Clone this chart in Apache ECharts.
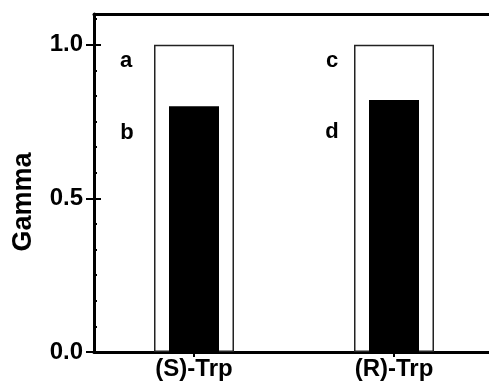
<!DOCTYPE html>
<html>
<head>
<meta charset="utf-8">
<script src="https://cdn.jsdelivr.net/npm/echarts@6/dist/echarts.min.js"></script>
<style>
  html, body { margin: 0; padding: 0; background: #fff; }
  #chart { width: 489px; height: 389px; }
</style>
</head>
<body>
<div id="chart"></div>
<script>
// Enantiomer categories and their gamma values
const categories = ['(S)-Trp', '(R)-Trp'];
const outerValues = [1.0, 1.0];     // open bars (a, c)
const innerValues = [0.80, 0.82];   // filled bars (b, d)
const outerLetters = ['a', 'c'];
const innerLetters = ['b', 'd'];
const yTickValues = [0, 0.5, 1.0];

const FONT = '"Liberation Sans", Arial, Helvetica, sans-serif';

// label anchor offsets relative to each bar's top-left corner
const outerLabelPos = [[-28, 16], [-22, 16]];
const innerLabelPos = [[-42, 27], [-37, 32]];

const letterStyle = {
  show: true,
  color: '#000',
  fontFamily: FONT,
  fontWeight: 'bold',
  fontSize: 22,
  align: 'center',
  verticalAlign: 'middle'
};

const chart = echarts.init(document.getElementById('chart'), null, { renderer: 'canvas' });

chart.setOption({
  animation: false,
  backgroundColor: '#fff',
  grid: { left: 94, width: 400, top: 14, bottom: 37, containLabel: false, outerBoundsMode: 'none' },
  xAxis: [
    {
      type: 'category',
      data: categories,
      position: 'bottom',
      boundaryGap: true,
      axisLine: { show: true, onZero: false, lineStyle: { color: '#000', width: 3 } },
      axisTick: { show: true, alignWithLabel: true, inside: false, length: 5, lineStyle: { color: '#000', width: 2 } },
      axisLabel: { color: '#000', fontFamily: FONT, fontWeight: 'bold', fontSize: 24, margin: 5 },
      splitLine: { show: false }
    },
    {
      // frame line along the top of the plot
      type: 'category',
      data: categories,
      position: 'top',
      boundaryGap: true,
      axisLine: { show: true, onZero: false, lineStyle: { color: '#000', width: 3 } },
      axisTick: { show: false },
      axisLabel: { show: false },
      splitLine: { show: false }
    }
  ],
  yAxis: [
    {
      type: 'value',
      min: 0,
      max: 1.1,
      interval: 0.5,
      position: 'left',
      name: 'Gamma',
      nameLocation: 'middle',
      nameGap: 57,
      nameTextStyle: { color: '#000', fontFamily: FONT, fontWeight: 'bold', fontSize: 27, padding: [0, 38, 0, 0] },
      axisLine: { show: true, onZero: false, lineStyle: { color: '#000', width: 3 } },
      axisTick: { show: true, inside: false, length: 8, customValues: yTickValues, lineStyle: { color: '#000', width: 2 } },
      axisLabel: {
        color: '#000', fontFamily: FONT, fontWeight: 'bold', fontSize: 24, margin: 11,
        customValues: yTickValues,
        formatter: v => v.toFixed(1)
      },
      splitLine: { show: false }
    },
    {
      // inward major ticks
      type: 'value',
      min: 0,
      max: 1.1,
      interval: 0.5,
      position: 'left',
      axisLine: { show: false, onZero: false },
      axisTick: { show: true, inside: true, length: 7, customValues: [0.5, 1.0], lineStyle: { color: '#000', width: 2 } },
      axisLabel: { show: false },
      splitLine: { show: false }
    },
    {
      // inward minor ticks
      type: 'value',
      min: 0,
      max: 1.1,
      interval: 1 / 12,
      position: 'left',
      axisLine: { show: false, onZero: false },
      axisTick: { show: true, inside: true, length: 3, lineStyle: { color: '#000', width: 2 } },
      axisLabel: { show: false },
      splitLine: { show: false }
    }
  ],
  series: [
    {
      name: 'open',
      type: 'bar',
      xAxisIndex: 0,
      yAxisIndex: 0,
      barWidth: 80,
      z: 2,
      itemStyle: { color: '#fff', borderColor: '#222', borderWidth: 1.5 },
      data: outerValues.map((v, i) => ({
        value: v,
        label: Object.assign({}, letterStyle, { formatter: outerLetters[i], position: outerLabelPos[i] })
      }))
    },
    {
      name: 'filled',
      type: 'bar',
      xAxisIndex: 1,
      yAxisIndex: 0,
      barWidth: 50,
      z: 3,
      itemStyle: { color: '#000' },
      data: innerValues.map((v, i) => ({
        value: v,
        label: Object.assign({}, letterStyle, { formatter: innerLetters[i], position: innerLabelPos[i] })
      }))
    }
  ]
});
</script>
</body>
</html>
